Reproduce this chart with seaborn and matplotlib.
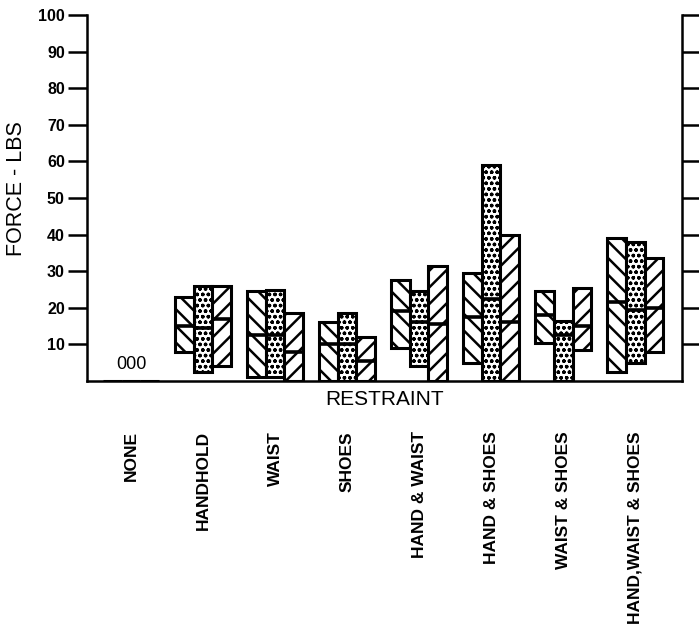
import numpy as np
import pandas as pd
import matplotlib
matplotlib.use("Agg")
import matplotlib.pyplot as plt
import seaborn as sns

# --- Data ---
categories = ["NONE", "HANDHOLD", "WAIST", "SHOES", "HAND & WAIST",
              "HAND & SHOES", "WAIST & SHOES", "HAND,WAIST & SHOES"]
series = ["A", "B", "C"]

low_a = [0, 8, 1, 0, 9, 5, 10.5, 2.5]
high_a = [0, 23, 24.5, 16, 27.5, 29.5, 24.5, 39]
med_a = [0, 15, 12.5, 10, 19, 17.5, 18, 21.5]

low_b = [0, 2.5, 1, 0, 4, 0, 0, 5]
high_b = [0, 26, 25, 18.5, 24.5, 59, 16.5, 38]
med_b = [0, 14.5, 12.5, 10, 16, 22.5, 12.5, 19.5]

low_c = [0, 4, 0, 0, 0, 0, 8.5, 8]
high_c = [0, 26, 18.5, 12, 31.5, 40, 25.5, 33.5]
med_c = [0, 17, 8, 5.5, 15.5, 16, 15, 20]

y_ticks = [10, 20, 30, 40, 50, 60, 70, 80, 90, 100]

# --- Long table for seaborn ---
rows = []
for s, lo, hi, md in zip(series, [low_a, low_b, low_c],
                         [high_a, high_b, high_c], [med_a, med_b, med_c]):
    for c, l, h, m in zip(categories, lo, hi, md):
        rows.append({"restraint": c, "series": s, "low": l, "high": h,
                     "median": m, "span": h - l})
df = pd.DataFrame(rows)
lookup = df.set_index(["restraint", "series"])

plt.rcParams["font.family"] = ["Liberation Sans", "DejaVu Sans"]
plt.rcParams["hatch.linewidth"] = 1.8
plt.rcParams["hatch.color"] = "black"

fig = plt.figure(figsize=(6.99, 6.33), dpi=100)
ax = fig.add_axes([87 / 699, 1 - 381 / 633, (682 - 87) / 699, (381 - 15) / 633])

sns.barplot(data=df, x="restraint", y="span", hue="series", order=categories,
            hue_order=series, palette=["white"] * 3, edgecolor="black",
            linewidth=2.2, width=0.78, errorbar=None, legend=False, ax=ax,
            saturation=1)

hatches = ["\\\\", "ooo", "//"]
hatch_lw = [1.8, 1.0, 1.8]
step = 0.78 / 3
for p in ax.patches:
    cx = p.get_x() + p.get_width() / 2
    ci = int(round(cx))
    hi_idx = int(round((cx - ci) / step)) + 1
    row = lookup.loc[(categories[ci], series[hi_idx])]
    p.set_y(row["low"])
    p.set_hatch(hatches[hi_idx])
    if hasattr(p, "set_hatch_linewidth"):
        p.set_hatch_linewidth(hatch_lw[hi_idx])
    if row["span"] > 0:
        ax.hlines(row["median"], p.get_x(), p.get_x() + p.get_width(),
                  color="black", linewidth=2.6, zorder=5)

ax.text(0, 4.5, "000", ha="center", va="center", fontsize=13)

# --- Axes styling ---
ax.set_ylim(0, 100)
ax.set_xlim(-0.61, 7.65)
ax.set_yticks(y_ticks)
ax.set_yticklabels([str(t) for t in y_ticks], fontsize=11.5, fontweight="bold")
ax.tick_params(axis="y", direction="out", length=14, width=1.8, right=True,
               labelright=False, pad=2)
ax.tick_params(axis="x", length=0, pad=36)
ax.set_xticks(range(len(categories)))
ax.set_xticklabels(categories, rotation=90, fontsize=12.5, fontweight="bold",
                   va="top")
for side in ["left", "right", "bottom"]:
    ax.spines[side].set_linewidth(1.8)
ax.spines["top"].set_visible(False)

ax.set_ylabel("FORCE - LBS", fontsize=15.5)
ax.yaxis.set_label_coords(-0.10, 0.525)
ax.set_xlabel("RESTRAINT", fontsize=15)
ax.xaxis.set_label_coords(0.5, -0.025)

fig.savefig("out.png", dpi=100)
